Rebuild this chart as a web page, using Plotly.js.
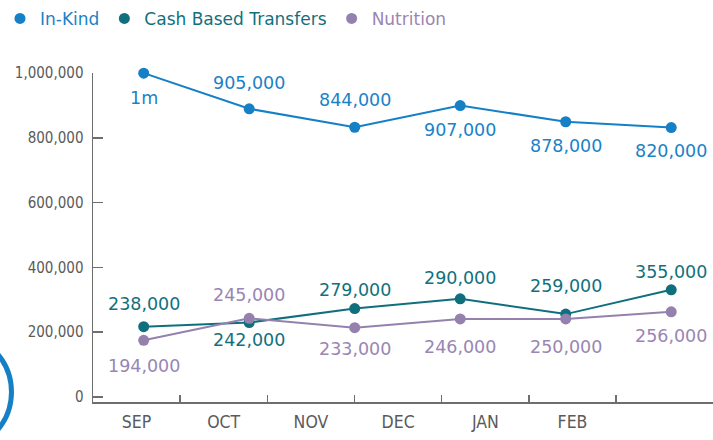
<!DOCTYPE html>
<html>
<head>
<meta charset="utf-8">
<script src="https://cdn.plot.ly/plotly-3.0.1.min.js"></script>
<style>html,body{margin:0;padding:0;background:#fff;}#chart{width:713px;height:440px;}</style>
</head>
<body>
<div id="chart"></div>
<script>
// ---- data ----
const months = ['SEP', 'OCT', 'NOV', 'DEC', 'JAN', 'FEB'];
const seriesNames = ['In-Kind', 'Cash Based Transfers', 'Nutrition'];
const inKind = [1000000, 890000, 833000, 900000, 850000, 832000];
const inKindLabels = ['1m', '905,000', '844,000', '907,000', '878,000', '820,000'];
const cash = [217000, 230000, 273000, 303000, 256000, 331000];
const cashLabels = ['238,000', '242,000', '279,000', '290,000', '259,000', '355,000'];
const nutrition = [175000, 243000, 214000, 241000, 241000, 263000];
const nutritionLabels = ['194,000', '245,000', '233,000', '246,000', '250,000', '256,000'];
const yTickValues = [0, 200000, 400000, 600000, 800000, 1000000];

// ---- styles ----
const colors = ['#1580c6', '#0f6f7c', '#9581ad'];
const textColors = ['#1a82c8', '#12707e', '#9986b3'];
const labelShift = [
  [-25, 26, 27, -24, -24, -23],
  [23, -17, 19, 21, 28, 18],
  [-26, 23, -21, -28, -28, -24]
];
const values = [inKind, cash, nutrition];
const labels = [inKindLabels, cashLabels, nutritionLabels];
const monthIndex = months.map((m, i) => i);

const traces = [];
// month-label axis carrier (invisible, no marks)
traces.push({
  x: monthIndex, y: months.map(() => null), type: 'scatter', mode: 'markers',
  xaxis: 'x2', yaxis: 'y', showlegend: false, hoverinfo: 'skip', marker: {opacity: 0}
});
values.forEach((v, i) => {
  traces.push({
    x: months, y: v, type: 'scatter', mode: 'lines', xaxis: 'x', yaxis: 'y',
    line: {color: colors[i], width: 2}, showlegend: false, hoverinfo: 'skip', cliponaxis: false
  });
});
values.forEach((v, i) => {
  traces.push({
    x: months, y: v, type: 'scatter', mode: 'markers', xaxis: 'x', yaxis: 'y',
    name: '<span style="color:' + textColors[i] + '">' + seriesNames[i] + '</span>',
    marker: {color: colors[i], size: 11}, cliponaxis: false
  });
});

const annotations = [];
values.forEach((v, i) => {
  v.forEach((val, j) => {
    annotations.push({
      x: months[j], y: val, xref: 'x', yref: 'y', text: labels[i][j], showarrow: false,
      xanchor: 'center', yanchor: 'middle', yshift: labelShift[i][j],
      font: {family: 'DejaVu Sans, sans-serif', size: 17.5, color: textColors[i]}
    });
  });
});

const layout = {
  width: 713, height: 440,
  margin: {l: 93, r: 0, t: 73, b: 38, pad: 0},
  paper_bgcolor: '#fff', plot_bgcolor: '#fff',
  showlegend: true,
  legend: {
    orientation: 'h', xref: 'container', yref: 'container', x: 0, y: 0.998,
    xanchor: 'left', yanchor: 'top',
    font: {family: 'DejaVu Sans, sans-serif', size: 17},
    bgcolor: 'rgba(0,0,0,0)', itemsizing: 'trace', traceorder: 'normal'
  },
  xaxis: {
    type: 'category', categoryorder: 'array', categoryarray: months,
    range: [-0.4806, 5.396], showticklabels: false, ticks: '', showline: false,
    showgrid: false, zeroline: false, fixedrange: true
  },
  xaxis2: {
    type: 'linear', overlaying: 'x', anchor: 'y', side: 'bottom',
    range: [-0.499, 6.611], tickmode: 'array', tickvals: monthIndex, ticktext: months,
    ticks: '', showline: true, linecolor: '#6e6e6e', linewidth: 1.5,
    minor: {tickvals: [0.5, 1.5, 2.5, 3.5, 4.5, 5.5], ticks: 'inside', ticklen: 7, tickcolor: '#6e6e6e', tickwidth: 1.5},
    showgrid: false, zeroline: false,
    tickfont: {family: 'DejaVu Sans Condensed, DejaVu Sans, sans-serif', size: 17.5, color: '#5a5a5a'},
    ticklabelstandoff: 3
  },
  yaxis: {
    range: [-15450, 1000500], tickmode: 'array', tickvals: yTickValues, tickformat: ',d',
    ticks: 'inside', ticklen: 10, tickcolor: '#6e6e6e', tickwidth: 1.5,
    showline: true, linecolor: '#6e6e6e', linewidth: 1.5,
    showgrid: false, zeroline: false,
    tickfont: {family: 'DejaVu Sans Condensed, DejaVu Sans, sans-serif', size: 15, color: '#5a5a5a'},
    ticklabelstandoff: 5
  },
  annotations: annotations,
  shapes: [{
    type: 'circle', xref: 'paper', yref: 'paper',
    x0: -0.3202, x1: -0.1315, y0: -0.1474, y1: 0.2082,
    line: {color: '#1580c6', width: 5}, fillcolor: 'rgba(0,0,0,0)', layer: 'above'
  }]
};

Plotly.newPlot('chart', traces, layout, {displayModeBar: false, staticPlot: true});
</script>
</body>
</html>
